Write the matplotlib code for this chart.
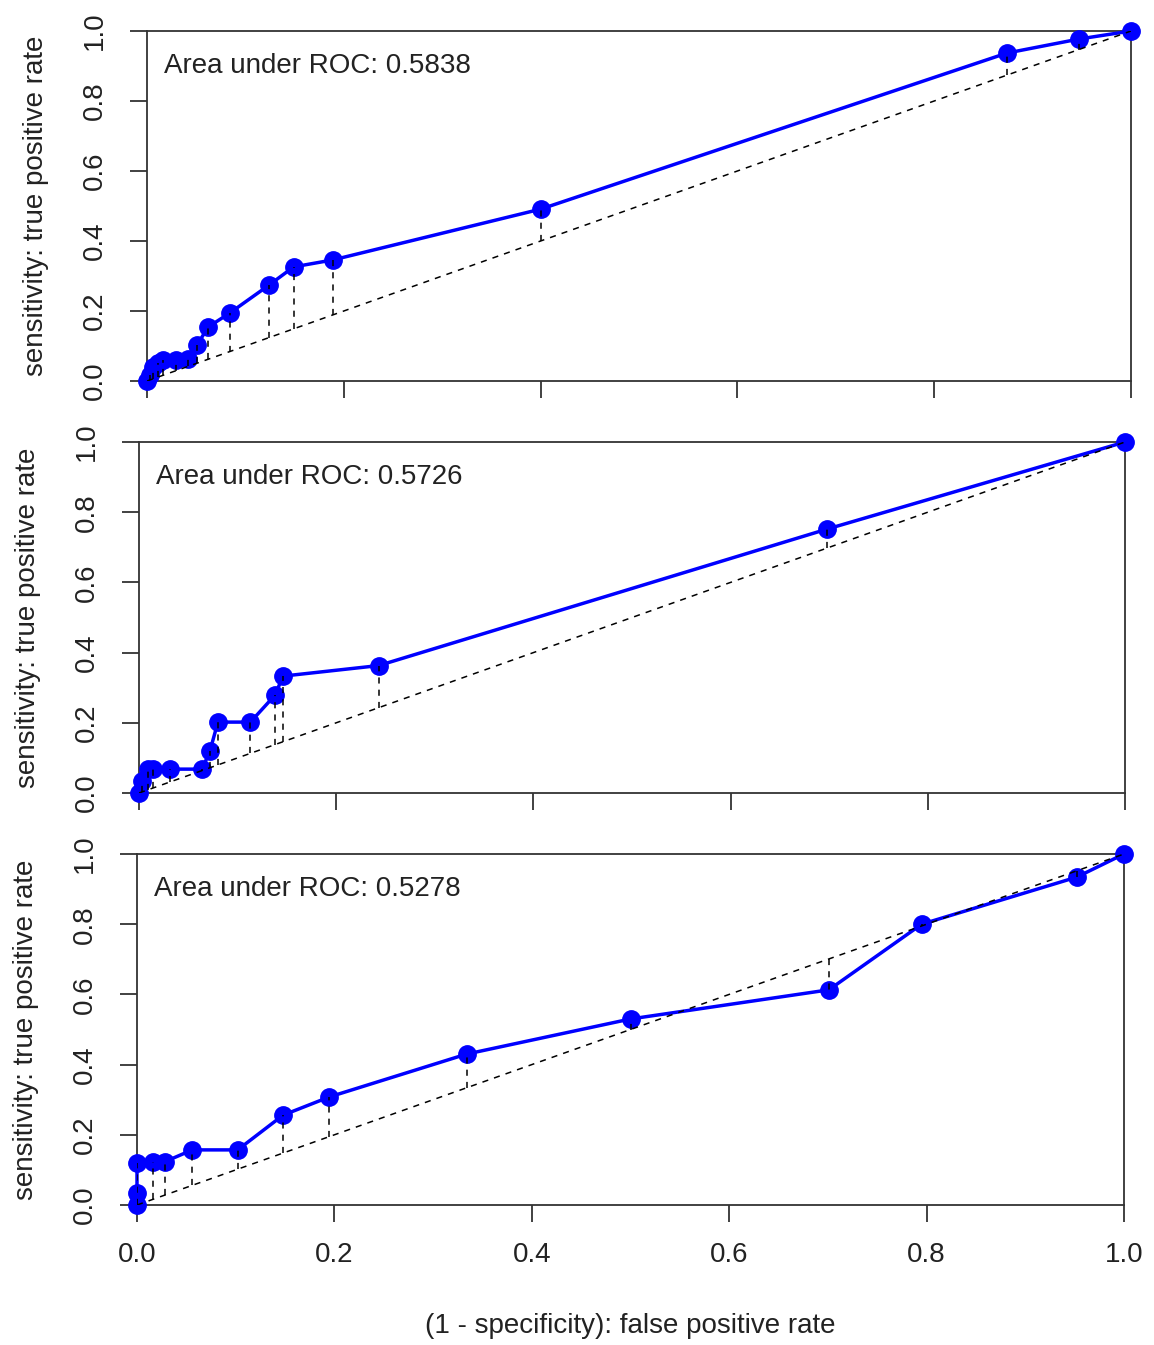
import matplotlib
matplotlib.use('Agg')
import matplotlib.pyplot as plt

plt.rcParams['font.family'] = ['Liberation Sans', 'DejaVu Sans']

# ROC points, three models
fpr1 = [0.0, 0.003, 0.006, 0.011, 0.016, 0.029, 0.042, 0.051, 0.062, 0.084, 0.124, 0.149, 0.189, 0.400, 0.874, 0.947, 1.0]
tpr1 = [0.0, 0.017, 0.040, 0.052, 0.060, 0.060, 0.062, 0.103, 0.154, 0.194, 0.274, 0.326, 0.346, 0.491, 0.937, 0.977, 1.0]

fpr2 = [0.0, 0.003, 0.009, 0.014, 0.031, 0.064, 0.072, 0.080, 0.113, 0.138, 0.146, 0.243, 0.698, 1.0]
tpr2 = [0.0, 0.034, 0.068, 0.068, 0.068, 0.068, 0.120, 0.202, 0.202, 0.279, 0.333, 0.363, 0.752, 1.0]

fpr3 = [0.0, 0.0, 0.0, 0.016, 0.028, 0.056, 0.102, 0.148, 0.195, 0.334, 0.500, 0.701, 0.795, 0.952, 1.0]
tpr3 = [0.0, 0.034, 0.120, 0.123, 0.123, 0.157, 0.157, 0.256, 0.308, 0.430, 0.530, 0.613, 0.800, 0.934, 1.0]

auc_labels = ['Area under ROC: 0.5838', 'Area under ROC: 0.5726', 'Area under ROC: 0.5278']
ticks = [0.0, 0.2, 0.4, 0.6, 0.8, 1.0]
tick_labels = ['0.0', '0.2', '0.4', '0.6', '0.8', '1.0']

W, H = 1154, 1345
# panel boxes in pixels: left, right, top, bottom
boxes = [(147, 1131, 31, 381), (139, 1125, 442, 793), (137, 1124, 854, 1205)]
curves = [(fpr1, tpr1), (fpr2, tpr2), (fpr3, tpr3)]

fig = plt.figure(figsize=(W / 100, H / 100), dpi=100)
FS = 20
TXT = '#222222'

for i, ((l, r, t, b), (fpr, tpr)) in enumerate(zip(boxes, curves)):
    ax = fig.add_axes([l / W, 1 - b / H, (r - l) / W, (b - t) / H])
    ax.plot(fpr, tpr, color='#0000ff', lw=2.5, marker='o', ms=12.5, clip_on=False, zorder=3)
    ax.plot([0, 1], [0, 1], color='black', lw=1.1, ls=(0, (4, 4)), zorder=4)
    ax.vlines(fpr, fpr, tpr, colors='black', lw=1.1, linestyles=(0, (4, 4)), zorder=4)
    ax.set_xlim(0, 1)
    ax.set_ylim(0, 1)
    ax.set_xticks(ticks)
    ax.set_yticks(ticks)
    ax.set_yticklabels(tick_labels, rotation=90, va='center', fontsize=FS, color=TXT)
    if i == 2:
        ax.set_xticklabels(tick_labels, fontsize=FS, color=TXT)
        ax.set_xlabel('(1 - specificity): false positive rate', fontsize=FS, color=TXT, labelpad=32)
    else:
        ax.set_xticklabels([])
    ax.tick_params(axis='both', length=12, width=1.3, color='#333333')
    ax.tick_params(axis='y', pad=16)
    ax.tick_params(axis='x', pad=15)
    ax.set_ylabel('sensitivity: true positive rate', fontsize=FS, color=TXT, labelpad=24)
    for s in ax.spines.values():
        s.set_linewidth(1.3)
        s.set_color('#333333')
    ax.text(0.017, 0.9, auc_labels[i], transform=ax.transAxes, fontsize=FS,
            color=TXT, va='center', ha='left')

fig.savefig('out.png', dpi=100)
